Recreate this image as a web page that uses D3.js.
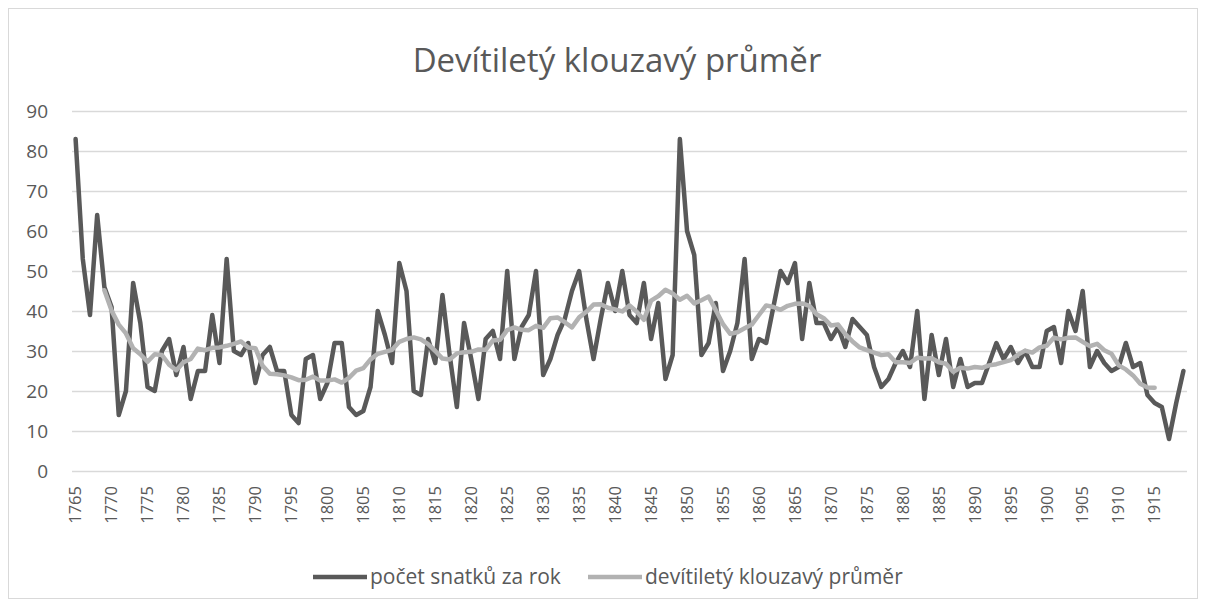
<!DOCTYPE html>
<html>
<head>
<meta charset="utf-8">
<script src="https://cdn.jsdelivr.net/npm/d3@7"></script>
<style>
  body { margin: 0; background: #fff; }
  svg text { font-family: "Open Sans", "Liberation Sans", Arial, sans-serif; fill: #595959; }
</style>
</head>
<body>
<svg id="chart" width="1206" height="608"></svg>
<script>
// years 1765..1919
const years = d3.range(1765, 1920);
// počet snatků za rok
const marriages = [
  83, 53, 39, 64, 46, 41, 14, 20, 47, 37, 21, 20, 30, 33, 24, 31, 18, 25, 25, 39,
  27, 53, 30, 29, 32, 22, 29, 31, 25, 25, 14, 12, 28, 29, 18, 22, 32, 32, 16, 14,
  15, 21, 40, 34, 27, 52, 45, 20, 19, 33, 27, 44, 29, 16, 37, 28, 18, 33, 35, 28,
  50, 28, 36, 39, 50, 24, 28, 34, 38, 45, 50, 38, 28, 38, 47, 40, 50, 39, 37, 47,
  33, 42, 23, 29, 83, 60, 54, 29, 32, 42, 25, 30, 37, 53, 28, 33, 32, 41, 50, 47,
  52, 33, 47, 37, 37, 33, 36, 31, 38, 36, 34, 26, 21, 23, 27, 30, 26, 40, 18, 34,
  24, 33, 21, 28, 21, 22, 22, 27, 32, 28, 31, 27, 30, 26, 26, 35, 36, 27, 40, 35,
  45, 26, 30, 27, 25, 26, 32, 26, 27, 19, 17, 16, 8, 17, 25
];
// devítiletý klouzavý průměr, 1769..1915 (centred)
const movingAvg = [
  null, null, null, null,
  45.2, 40.1, 36.6, 34.4, 30.7, 29.2, 27.3, 29.2, 29.0, 26.6, 25.2, 27.2, 28.0, 30.6,
  30.2, 30.8, 30.9, 31.3, 31.8, 32.4, 30.9, 30.7, 26.3, 24.3, 24.2, 23.9, 23.4, 22.7,
  22.8, 23.6, 22.6, 22.6, 22.9, 22.1, 23.3, 25.1, 25.7, 27.9, 29.3, 29.8, 30.3, 32.3,
  33.0, 33.4, 32.9, 31.7, 30.0, 28.1, 27.9, 29.4, 29.7, 29.8, 30.4, 30.3, 32.6, 32.8,
  35.2, 35.9, 35.3, 35.2, 36.3, 35.8, 38.2, 38.4, 37.2, 35.9, 38.4, 39.8, 41.6, 41.7,
  40.8, 40.4, 39.9, 41.4, 39.8, 37.8, 42.6, 43.7, 45.3, 44.4, 42.8, 43.8, 41.9, 42.7,
  43.6, 40.2, 36.7, 34.3, 34.7, 35.7, 36.6, 39.0, 41.4, 41.0, 40.3, 41.3, 41.8, 41.9,
  41.3, 39.2, 38.2, 36.4, 36.6, 34.2, 32.4, 30.9, 30.2, 29.6, 29.0, 29.2, 27.2, 27.2,
  27.0, 28.3, 28.1, 28.2, 27.2, 26.8, 24.8, 25.8, 25.6, 26.0, 25.8, 26.4, 26.7, 27.2,
  27.7, 29.1, 30.1, 29.6, 30.9, 31.3, 33.3, 32.9, 33.3, 33.4, 32.3, 31.2, 31.8, 30.2,
  29.3, 26.4, 25.4, 23.9, 21.8, 20.9, 20.8,
  null, null, null, null
];
const yTicks = d3.range(0, 100, 10);
const xTicks = years.filter(yr => (yr - 1765) % 5 === 0);
const seriesNames = ['počet snatků za rok', 'devítiletý klouzavý průměr'];
const seriesColors = ['#595959', '#b2b2b2'];

const svg = d3.select('#chart');
const plotLeft = 72;
const plotRight = 1187;
const plotTop = 111;
const plotBottom = 471;

// chart frame
svg.append('rect')
  .attr('x', 8.5).attr('y', 8.5).attr('width', 1189).attr('height', 590)
  .attr('fill', '#fff').attr('stroke', '#d9d9d9');

const x = d3.scaleBand().domain(years).range([plotLeft, plotRight]);
const xc = d => x(d) + x.bandwidth() / 2;
const y = d3.scaleLinear().domain([0, 90]).range([plotBottom, plotTop]);

// title
svg.append('text')
  .attr('x', 617).attr('y', 72)
  .attr('text-anchor', 'middle')
  .style('font-size', '33px')
  .text('Devítiletý klouzavý průměr');

// y axis + gridlines
const yAxis = svg.append('g')
  .attr('transform', `translate(${plotLeft},0)`)
  .call(d3.axisLeft(y).tickValues(yTicks).tickSize(-(plotRight - plotLeft)).tickPadding(24));
yAxis.select('.domain').remove();
yAxis.selectAll('line').attr('stroke', '#d9d9d9').attr('stroke-width', 1.3);
yAxis.selectAll('text').style('font-size', '19px').attr('fill', '#595959');

// x axis labels (rotated)
const xAxis = svg.append('g')
  .attr('transform', `translate(0,${plotBottom})`)
  .call(d3.axisBottom(x).tickValues(xTicks).tickSize(0));
xAxis.select('.domain').remove();
xAxis.selectAll('text')
  .attr('transform', 'rotate(-90)')
  .attr('x', -15).attr('y', 0)
  .attr('dy', '0.35em')
  .attr('text-anchor', 'end')
  .style('font-size', '16.5px')
  .attr('fill', '#595959');

// lines
const line = d3.line()
  .defined(d => d[1] !== null)
  .x(d => xc(d[0]))
  .y(d => y(d[1]));

svg.append('path')
  .datum(years.map((yr, i) => [yr, marriages[i]]))
  .attr('d', line)
  .attr('fill', 'none')
  .attr('stroke', seriesColors[0])
  .attr('stroke-width', 4.5)
  .attr('stroke-linejoin', 'round')
  .attr('stroke-linecap', 'round');

svg.append('path')
  .datum(years.map((yr, i) => [yr, movingAvg[i]]))
  .attr('d', line)
  .attr('fill', 'none')
  .attr('stroke', seriesColors[1])
  .attr('stroke-width', 4.5)
  .attr('stroke-linejoin', 'round')
  .attr('stroke-linecap', 'round');

// legend
const legendX = [313, 588];
const legend = svg.append('g');
seriesNames.forEach((name, i) => {
  legend.append('line')
    .attr('x1', legendX[i]).attr('x2', legendX[i] + 54)
    .attr('y1', 577).attr('y2', 577)
    .attr('stroke', seriesColors[i])
    .attr('stroke-width', 4.5);
  legend.append('text')
    .attr('x', legendX[i] + 57).attr('y', 584)
    .style('font-size', '21px')
    .text(name);
});
</script>
</body>
</html>
